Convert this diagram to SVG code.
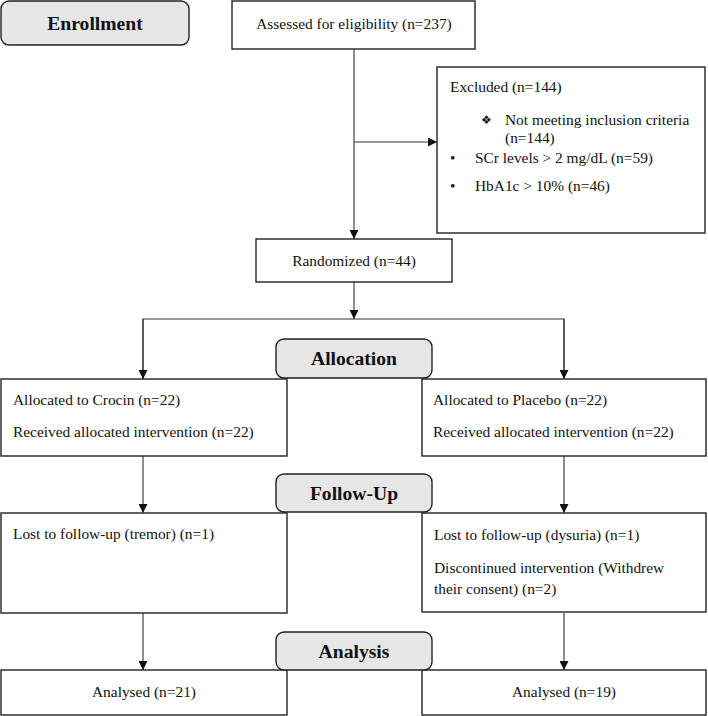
<svg xmlns="http://www.w3.org/2000/svg" width="708" height="716" viewBox="0 0 708 716">
<defs>
<marker id="arr" viewBox="0 0 10 10" refX="10" refY="5" markerWidth="9" markerHeight="9" markerUnits="userSpaceOnUse" orient="auto">
<path d="M0,0 L10,5 L0,10 Z" fill="#111"/>
</marker>
<style>
.box{fill:#fff;stroke:#222;stroke-width:1.4}
.stage{fill:#e6e6e6;stroke:#222;stroke-width:1.4}
.t{font-family:"Liberation Serif","Times New Roman",serif;font-size:15.4px;fill:#111}
.c{text-anchor:middle}
.b{font-family:"Liberation Serif","Times New Roman",serif;font-size:19.6px;font-weight:bold;fill:#111;text-anchor:middle}
.sym{font-family:"DejaVu Sans",sans-serif;font-size:12px;fill:#111}
.ln{fill:none;stroke:#333;stroke-width:1.1}
</style>
</defs>
<rect width="708" height="716" fill="#fff"/>
<g id="connectors">
<line class="ln" x1="354" y1="49" x2="354" y2="239" marker-end="url(#arr)"/>
<line class="ln" x1="354" y1="142" x2="437" y2="142" marker-end="url(#arr)"/>
<line class="ln" x1="354" y1="282" x2="354" y2="319" marker-end="url(#arr)"/>
<polyline class="ln" points="143,379 143,319 564,319 564,379"/>
<line class="ln" x1="143" y1="319" x2="143" y2="379" marker-end="url(#arr)"/>
<line class="ln" x1="564" y1="319" x2="564" y2="379" marker-end="url(#arr)"/>
<line class="ln" x1="143" y1="456" x2="143" y2="513" marker-end="url(#arr)"/>
<line class="ln" x1="564" y1="456" x2="564" y2="513" marker-end="url(#arr)"/>
<line class="ln" x1="143" y1="613" x2="143" y2="670" marker-end="url(#arr)"/>
<line class="ln" x1="564" y1="613" x2="564" y2="670" marker-end="url(#arr)"/>
</g>
<g id="assessed">
<rect class="box" x="232" y="1" width="243" height="48"/>
<text class="t c" x="354" y="29">Assessed for eligibility (n=237)</text>
</g>
<g id="excluded">
<rect class="box" x="437" y="67" width="268" height="166"/>
<text class="t" x="450" y="92">Excluded (n=144)</text>
<text class="sym" x="481" y="124">❖</text>
<text class="t" x="505" y="125">Not meeting inclusion criteria</text>
<text class="t" x="505" y="143">(n=144)</text>
<text class="t" x="450" y="163">•</text>
<text class="t" x="475" y="163">SCr levels &gt; 2 mg/dL (n=59)</text>
<text class="t" x="450" y="191">•</text>
<text class="t" x="475" y="191">HbA1c &gt; 10% (n=46)</text>
</g>
<g id="randomized">
<rect class="box" x="256" y="239" width="196" height="43"/>
<text class="t c" x="354" y="266">Randomized (n=44)</text>
</g>
<g id="crocin">
<rect class="box" x="1" y="379" width="286" height="77"/>
<text class="t" x="13" y="405">Allocated to Crocin (n=22)</text>
<text class="t" x="13" y="437">Received allocated intervention (n=22)</text>
</g>
<g id="placebo">
<rect class="box" x="422" y="379" width="284" height="77"/>
<text class="t" x="433" y="405">Allocated to Placebo (n=22)</text>
<text class="t" x="433" y="437">Received allocated intervention (n=22)</text>
</g>
<g id="followup-crocin">
<rect class="box" x="1" y="513" width="286" height="100"/>
<text class="t" x="13" y="539">Lost to follow-up (tremor) (n=1)</text>
</g>
<g id="followup-placebo">
<rect class="box" x="422" y="513" width="284" height="99"/>
<text class="t" x="434" y="540">Lost to follow-up (dysuria) (n=1)</text>
<text class="t" x="434" y="573">Discontinued intervention (Withdrew</text>
<text class="t" x="434" y="594">their consent) (n=2)</text>
</g>
<g id="analysed-crocin">
<rect class="box" x="1" y="670" width="286" height="45"/>
<text class="t c" x="144" y="697">Analysed (n=21)</text>
</g>
<g id="analysed-placebo">
<rect class="box" x="422" y="670" width="284" height="45"/>
<text class="t c" x="564" y="697">Analysed (n=19)</text>
</g>
<g id="enrollment">
<rect class="stage" x="1" y="1" width="188" height="44" rx="8"/>
<text class="b" x="95" y="30">Enrollment</text>
</g>
<g id="allocation">
<rect class="stage" x="276" y="339" width="156" height="39" rx="8"/>
<text class="b" x="354" y="365">Allocation</text>
</g>
<g id="follow-up">
<rect class="stage" x="276" y="474" width="156" height="38" rx="8"/>
<text class="b" x="354" y="500">Follow-Up</text>
</g>
<g id="analysis">
<rect class="stage" x="276" y="632" width="156" height="38" rx="8"/>
<text class="b" x="354" y="658">Analysis</text>
</g>
</svg>
